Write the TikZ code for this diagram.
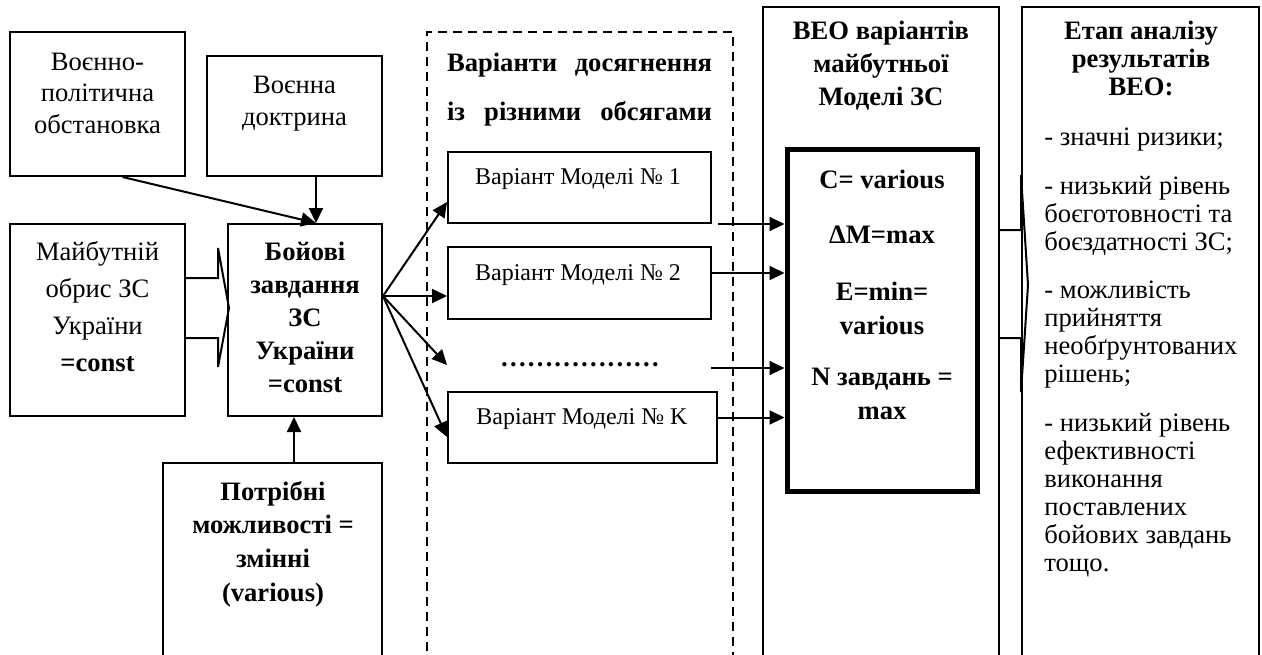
\documentclass[tikz,border=0pt]{standalone}
\usepackage{fontspec}
\setmainfont{Liberation Serif}
\usetikzlibrary{arrows.meta,fit,calc}
\tikzset{
  frame/.style={draw, line width=1pt, inner sep=0pt},
  dashframe/.style={frame, dash pattern=on 4.5pt off 3pt},
  heavyframe/.style={draw, line width=2.5pt, inner sep=0pt},
  lbl/.style={inner sep=0pt, anchor=base, align=center},
  txt/.style={lbl, font=\fontsize{13.3}{#1}\selectfont},
  btxt/.style={lbl, font=\bfseries\fontsize{13.3}{#1}\selectfont},
  vtxt/.style={lbl, font=\fontsize{12}{14}\selectfont},
  arr/.style={line width=1pt, -{Triangle[length=7.5pt,width=7pt]}},
  link/.style={line width=1pt, line join=miter},
}
\begin{document}
\begin{tikzpicture}[x=0.5pt, y=-0.5pt]
\useasboundingbox (0,0) rectangle (1262,654);
\clip (0,0) rectangle (1262,654);

% frames
\node[frame, fit={(10,32) (185,176)}] (A) {};
\node[frame, fit={(207,56) (382,176)}] (B) {};
\node[frame, fit={(10,224) (185,416)}] (C) {};
\node[frame, fit={(228,224) (382,416)}] (D) {};
\node[frame, fit={(163,463) (382,700)}] (E) {};
\node[dashframe, fit={(427,32) (733,700)}] (F) {};
\node[frame, fit={(448,152) (711,223)}] (V1) {};
\node[frame, fit={(448,247) (711,319)}] (V2) {};
\node[frame, fit={(448,392) (717,463)}] (VK) {};
\node[frame, fit={(763,7) (999,700)}] (G) {};
\node[heavyframe, fit={(787,149) (977,491)}] (H) {};
\node[frame, fit={(1022,7) (1259,700)}] (I) {};

% texts (each placed by the baseline of its last line)
\node[txt=15.75] (tA) at (97.5,133) {Воєнно-\\політична\\обстановка};
\node[txt=16] (tB) at (294.5,125) {Воєнна\\доктрина};
\node[txt=18.5] (tC) at (97.5,371) {Майбутній\\обрис ЗС\\України\\\textbf{=const}};
\node[btxt=16.5] (tD) at (305,392) {Бойові\\завдання\\ЗС\\України\\=const};
\node[btxt=16.8] (tE) at (273,601) {Потрібні\\можливості =\\змінні\\(various)};
\node[btxt=24.5] (tF) at (579.5,120) {\makebox[132.5pt][s]{Варіанти досягнення}\\\makebox[132.5pt][s]{із різними обсягами}};
\node[vtxt] (tV1) at (578,184) {Варіант Моделі № 1};
\node[vtxt] (tV2) at (578,280) {Варіант Моделі № 2};
\node[vtxt] (tVK) at (582,424) {Варіант Моделі № K};
\node[btxt=13] (gap) at (580,366) {\char"2026\char"2026\char"2026\char"2026\char"2026\char"2026};
\node[btxt=16.5] (tG) at (881,105) {ВЕО варіантів\\майбутньої\\Моделі ЗС};
\node[btxt=17] (tH) at (882,419) {C= various\\[10.5pt]ΔM=max\\[11.5pt]E=min=\\various\\[8.5pt]N завдань =\\max};
\node[btxt=14] (tI) at (1141,95) {Етап аналізу\\результатів\\ВЕО:};
\node[txt=14, anchor=base west, align=left] (tIb) at (1044,571)
  {- значні ризики;\\[10.5pt]- низький рівень\\боєготовності та\\боєздатності ЗС;\\[10pt]- можливість\\прийняття\\необґрунтованих\\рішень;\\[10.5pt]- низький рівень\\ефективності\\виконання\\поставлених\\бойових завдань\\тощо.};

% connector ends
\coordinate (dtop) at ([xshift=5.5pt]D.north);
\coordinate (dbot) at ([xshift=-5.5pt]D.south);
\coordinate (dfan) at ([yshift=12pt]D.east);
\coordinate (gapin) at (447,365);
\coordinate (gapout) at (711,368);
\coordinate (v1o) at ([xshift=3pt]V1.south east);
\coordinate (v2o) at ([yshift=5pt]V2.east);
\coordinate (vko) at ([yshift=5pt]VK.east);
\coordinate (gout) at ([yshift=61.75pt]G.east);

% inputs to the combat tasks
\draw[arr] ([xshift=12.5pt]A.south) -- (dtop);
\draw[arr] (B.south -| dtop) -- (dtop);
\draw[arr] (E.north -| dbot) -- (dbot);
\draw[link] ([yshift=21pt]C.east) -- ++(32,0) -- ++(0,-30) -- ++(11,60)
  -- ++(-11,59) -- ++(0,-29) -- ++(-32,0);

% fan to the model variants
\draw[arr] (dfan) -- ([yshift=-7.25pt]V1.west);
\draw[arr] (dfan) -- (dfan -| V2.west);
\draw[arr] (dfan) -- (gapin);
\draw[arr] (dfan) -- ([yshift=-4.75pt]VK.west);

% variants into the evaluation block
\draw[arr] (v1o) -- (v1o -| H.west);
\draw[arr] (v2o) -- (v2o -| H.west);
\draw[arr] (gapout) -- (gapout -| H.west);
\draw[arr] (vko) -- (vko -| H.west);

% hollow arrow to the analysis stage
\draw[link] (gout) -- ++(21,0) -- ++(0,-55) -- ++(7,110) -- ++(-7,107)
  -- ++(0,-54) -- ++(-21,0);
\end{tikzpicture}
\end{document}
